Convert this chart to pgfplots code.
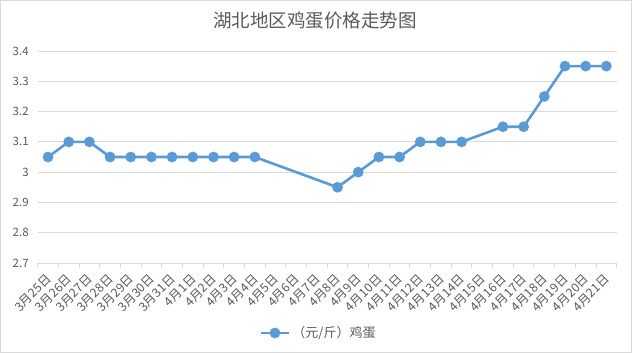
\documentclass[border=0pt]{standalone}
\usepackage{pgfplots}
\pgfplotsset{compat=1.18}
\usepackage{fontspec}
\setmainfont{Noto Sans CJK SC}
\definecolor{lineblue}{HTML}{5B9BD5}
\definecolor{gridgray}{HTML}{D9D9D9}
\definecolor{txtgray}{HTML}{595959}
\begin{document}
\begin{tikzpicture}
\useasboundingbox (0,0) rectangle (632bp,353bp);
\draw[gridgray, line width=1bp] (0.5bp,0.5bp) rectangle (631.5bp,352.5bp);
\node[txtgray, font=\fontsize{18.5bp}{20bp}\selectfont] at (315bp,332bp) {湖北地区鸡蛋价格走势图};
\begin{axis}[
  at={(37.7bp,90bp)}, anchor=south west,
  scale only axis, width=579bp, height=212bp,
  xmin=-0.5, xmax=27.5, ymin=2.7, ymax=3.4,
  ytick={2.7,2.8,...,3.41},
  xtick={0,...,27},
  xticklabels={3月25日,3月26日,3月27日,3月28日,3月29日,3月30日,3月31日,4月1日,4月2日,4月3日,4月4日,4月5日,4月6日,4月7日,4月8日,4月9日,4月10日,4月11日,4月12日,4月13日,4月14日,4月15日,4月16日,4月17日,4月18日,4月19日,4月20日,4月21日},
  minor xtick={-0.5,0.5,...,27.6},
  major tick length=0pt,
  minor tick length=5bp,
  tick align=outside,
  tick style={gridgray, line width=1bp},
  axis x line*=bottom, axis y line*=left,
  x axis line style={gridgray, line width=1bp},
  y axis line style={draw=none},
  ymajorgrids, grid style={gridgray, line width=1bp},
  /pgf/number format/assume math mode=true,
  ticklabel style={txtgray, font=\fontsize{11.5bp}{13bp}\selectfont},
  yticklabel style={xshift=-5.5bp},
  xticklabel style={xshift=1bp, yshift=-14bp, rotate=45, anchor=east, inner sep=0pt, font=\fontsize{12.3bp}{13bp}\selectfont},
  clip=false,
  legend style={at={(0.485,-0.33)}, anchor=center, draw=none, fill=none,
    font=\fontsize{13bp}{14bp}\selectfont, text=txtgray},
  legend image code/.code={\draw[mark repeat=2,mark phase=2] plot coordinates {(0cm,0cm) (0.5cm,0cm) (1cm,0cm)};},
]
\addplot[lineblue, line width=2.6bp, mark=*, mark size=4bp, mark options={fill=lineblue, draw=lineblue}] coordinates {
(0,3.05) (1,3.1) (2,3.1) (3,3.05) (4,3.05) (5,3.05) (6,3.05) (7,3.05) (8,3.05) (9,3.05) (10,3.05)
(14,2.95) (15,3.0) (16,3.05) (17,3.05) (18,3.1) (19,3.1) (20,3.1)
(22,3.15) (23,3.15) (24,3.25) (25,3.35) (26,3.35) (27,3.35)
};
\addlegendentry{（元/斤）鸡蛋}
\end{axis}
\end{tikzpicture}
\end{document}
